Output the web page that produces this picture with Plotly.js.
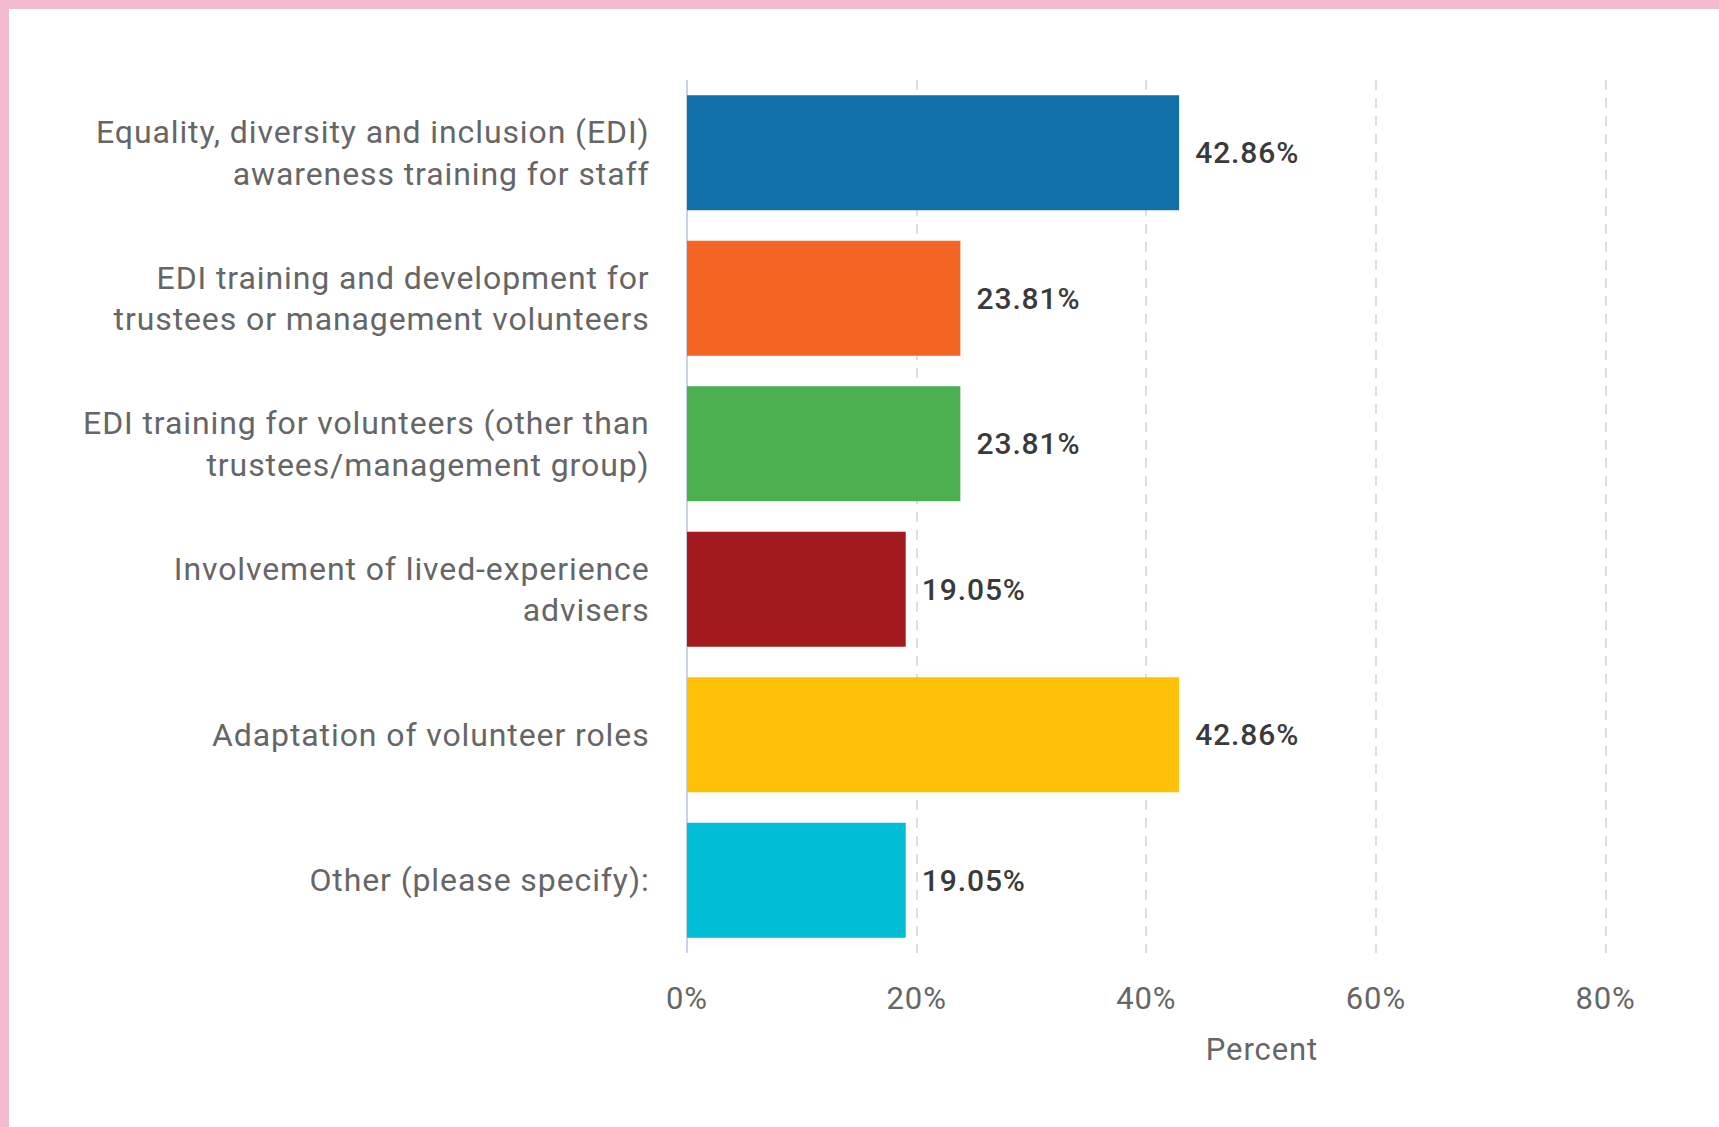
<!DOCTYPE html>
<html>
<head>
<meta charset="utf-8">
<script src="https://cdn.plot.ly/plotly-3.0.1.min.js"></script>
<style>
  html, body { margin: 0; padding: 0; background: #F4BBCF; overflow: hidden; }
  #wrap { position: absolute; left: 9px; top: 9px; width: 1710px; height: 1118px; background: #ffffff; }
  #chart { width: 1710px; height: 1118px; }
  #chart text { letter-spacing: 0.9px; }
</style>
</head>
<body>
<div id="wrap"><div id="chart"></div></div>
<script>
const categories = [
  "Equality, diversity and inclusion (EDI)<br>awareness training for staff",
  "EDI training and development for<br>trustees or management volunteers",
  "EDI training for volunteers (other than<br>trustees/management group)",
  "Involvement of lived-experience<br>advisers",
  "Adaptation of volunteer roles",
  "Other (please specify):"
];
const percentValues = [42.86, 23.81, 23.81, 19.05, 42.86, 19.05];
const barColors = ["#1170AA", "#F26522", "#4CAF50", "#A31A1E", "#FFC107", "#00BCD4"];
const tickValues = [0, 20, 40, 60, 80];
const tickLabels = ["0%", "20%", "40%", "60%", "80%"];
const axisTitle = "Percent";

const trace = {
  type: "bar",
  orientation: "h",
  y: categories,
  x: percentValues,
  marker: { color: barColors },
  text: percentValues.map(v => "\u00a0\u00a0" + v.toFixed(2) + "%"),
  textposition: "outside",
  cliponaxis: false,
  textfont: { family: "Roboto", size: 30, color: "#3a3a3a", weight: 500 },
  hoverinfo: "none"
};

const layout = {
  width: 1710,
  height: 1118,
  paper_bgcolor: "#ffffff",
  plot_bgcolor: "#ffffff",
  margin: { l: 678, r: 102, t: 71, b: 174 },
  bargap: 0.21,
  showlegend: false,
  font: { family: "Roboto", color: "#666666" },
  xaxis: {
    range: [0, 81],
    tickvals: tickValues,
    ticktext: tickLabels,
    showgrid: true,
    gridcolor: "#dedede",
    gridwidth: 2,
    griddash: "10px,8px",
    zeroline: true,
    zerolinecolor: "#c9d2ea",
    zerolinewidth: 2,
    showline: false,
    ticks: "outside",
    ticklen: 18,
    tickcolor: "rgba(0,0,0,0)",
    tickfont: { family: "Roboto", size: 31, color: "#666666" },
    fixedrange: true
  },
  yaxis: {
    autorange: "reversed",
    showgrid: false,
    zeroline: false,
    showline: false,
    ticks: "outside",
    ticklen: 30,
    tickcolor: "rgba(0,0,0,0)",
    tickfont: { family: "Roboto", size: 32, color: "#666666" },
    fixedrange: true
  },
  annotations: [{
    text: axisTitle,
    xref: "paper", yref: "paper",
    x: (1253 - 678) / 930, y: 0,
    xanchor: "center", yanchor: "middle",
    yshift: -96,
    showarrow: false,
    font: { family: "Roboto", size: 31, color: "#666666" }
  }]
};

Plotly.newPlot("chart", [trace], layout, { displayModeBar: false, staticPlot: true });
</script>
</body>
</html>
